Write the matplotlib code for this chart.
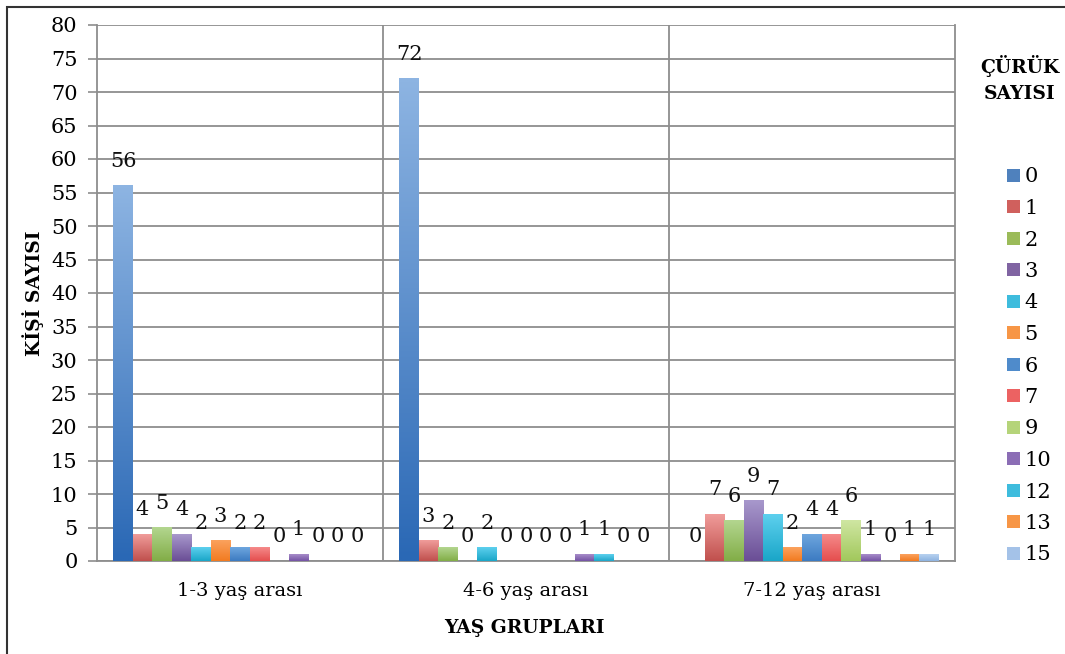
#!/usr/bin/env python3
"""
Decay count per age group - grouped bar chart (Excel-style gradients).
"""

import numpy as np
import matplotlib
matplotlib.use("Agg")
import matplotlib.pyplot as plt
from matplotlib.patches import Patch, Rectangle
from matplotlib.colors import to_rgb

plt.rcParams["font.family"] = ["DejaVu Serif"]

# -- data ----------------------------------------------------------------------
groups = ["1-3 yaş arası", "4-6 yaş arası", "7-12 yaş arası"]
series = ["0", "1", "2", "3", "4", "5", "6", "7", "9", "10", "12", "13", "15"]

vals_1_3 = [56, 4, 5, 4, 2, 3, 2, 2, 0, 1, 0, 0, 0]
vals_4_6 = [72, 3, 2, 0, 2, 0, 0, 0, 0, 1, 1, 0, 0]
vals_7_12 = [0, 7, 6, 9, 7, 2, 4, 4, 6, 1, 0, 1, 1]

values = np.array([vals_1_3, vals_4_6, vals_7_12])  # groups x series

y_ticks = list(range(0, 81, 5))

# gradient (top, bottom) per series
grad_top = ["#8DB4E2", "#F09C9A", "#B3D68F", "#A898CC", "#5DD0EE", "#FBA25E",
            "#6EA6DE", "#F58A8A", "#CFE6A2", "#A78CC9", "#5DD0EE", "#FBA25E",
            "#B8D2F0"]
grad_bot = ["#2A68B5", "#C0504D", "#82AD47", "#6A4E96", "#1AA6C8", "#F27B20",
            "#3C7BC2", "#E54E4E", "#A2C85C", "#7453A4", "#1AA6C8", "#F27B20",
            "#8FB3E0"]
legend_cols = ["#4F81BD", "#D0605D", "#9BBB59", "#8064A2", "#3EBCDD", "#F79646",
               "#4F8BCB", "#EC6262", "#B5D47A", "#8B6DB5", "#3EBCDD", "#F79646",
               "#A4C2E8"]

GRID = "#8E8E8E"
W, H = 1065, 654

fig = plt.figure(figsize=(W / 100, H / 100), dpi=100)
ax = fig.add_axes([97 / W, 1 - 561 / H, (955 - 97) / W, (561 - 25) / H])

n_ser = len(series)
bar_w = 19.5 / 286
x = np.arange(len(groups))


def gradient_bar(ax, xc, w, h, top, bot):
    if h <= 0:
        return
    c_top, c_bot = np.array(to_rgb(top)), np.array(to_rgb(bot))
    t = np.linspace(0, 1, 64)[:, None]
    img = (c_bot * (1 - t) + c_top * t)[:, None, :]
    ax.imshow(img, extent=(xc - w / 2, xc + w / 2, 0, h), origin="lower",
              aspect="auto", zorder=3, interpolation="bilinear")


for j in range(n_ser):
    xs = x + (j - (n_ser - 1) / 2) * bar_w
    for xc, v in zip(xs, values[:, j]):
        gradient_bar(ax, xc, bar_w * 0.98, v, grad_top[j], grad_bot[j])
        ax.annotate(f"{v}", (xc, v), xytext=(0, 17.5), textcoords="offset points",
                    ha="center", va="center", fontsize=15, color="#111111",
                    zorder=5)

ax.set_xlim(-0.5, len(groups) - 0.5)
ax.set_ylim(0, 80)
ax.set_yticks(y_ticks)
ax.set_yticklabels([str(t) for t in y_ticks], fontsize=15)
ax.set_xticks(x)
ax.set_xticklabels(groups, fontsize=14)
ax.tick_params(axis="y", length=6.5, width=1.2, color=GRID, pad=7.5)
ax.tick_params(axis="x", length=0, pad=15)

ax.yaxis.grid(True, color=GRID, linewidth=1.3, zorder=1)
ax.set_axisbelow(True)
for b in np.arange(0.5, len(groups) - 0.5):
    ax.axvline(b, color=GRID, linewidth=1.3, zorder=1)
for sp in ax.spines.values():
    sp.set_color(GRID)
    sp.set_linewidth(1.3)
ax.spines["top"].set_visible(False)

fig.text(33 / W, 1 - 293 / H, "KİŞİ SAYISI", rotation=90, ha="center",
         va="center", fontsize=13.5, fontweight="bold")
fig.text(524 / W, 1 - 628 / H, "YAŞ GRUPLARI", ha="center", va="center",
         fontsize=13.5, fontweight="bold")

# legend
fig.text(1020 / W, 1 - 66 / H, "ÇÜRÜK", ha="center", va="center",
         fontsize=13.5, fontweight="bold")
fig.text(1020 / W, 1 - 94 / H, "SAYISI", ha="center", va="center",
         fontsize=13.5, fontweight="bold")
handles = [Patch(facecolor=c, edgecolor="none") for c in legend_cols]
fig.legend(handles, series, loc="center left",
           bbox_to_anchor=(1007 / W, 1 - 366 / H), frameon=False,
           fontsize=15, handlelength=0.6, handleheight=0.6,
           handletextpad=0.25, labelspacing=0.6, borderpad=0,
           borderaxespad=0)

# outer frame (continues past the cropped right/bottom edges)
fig.patches.append(Rectangle((7 / W, -0.1), 1.2, 1 - 7 / H + 0.1,
                             transform=fig.transFigure, fill=False,
                             edgecolor="#333333", linewidth=1.5))

fig.savefig("out.png", dpi=100)
plt.close(fig)
print("Wrote out.png")
